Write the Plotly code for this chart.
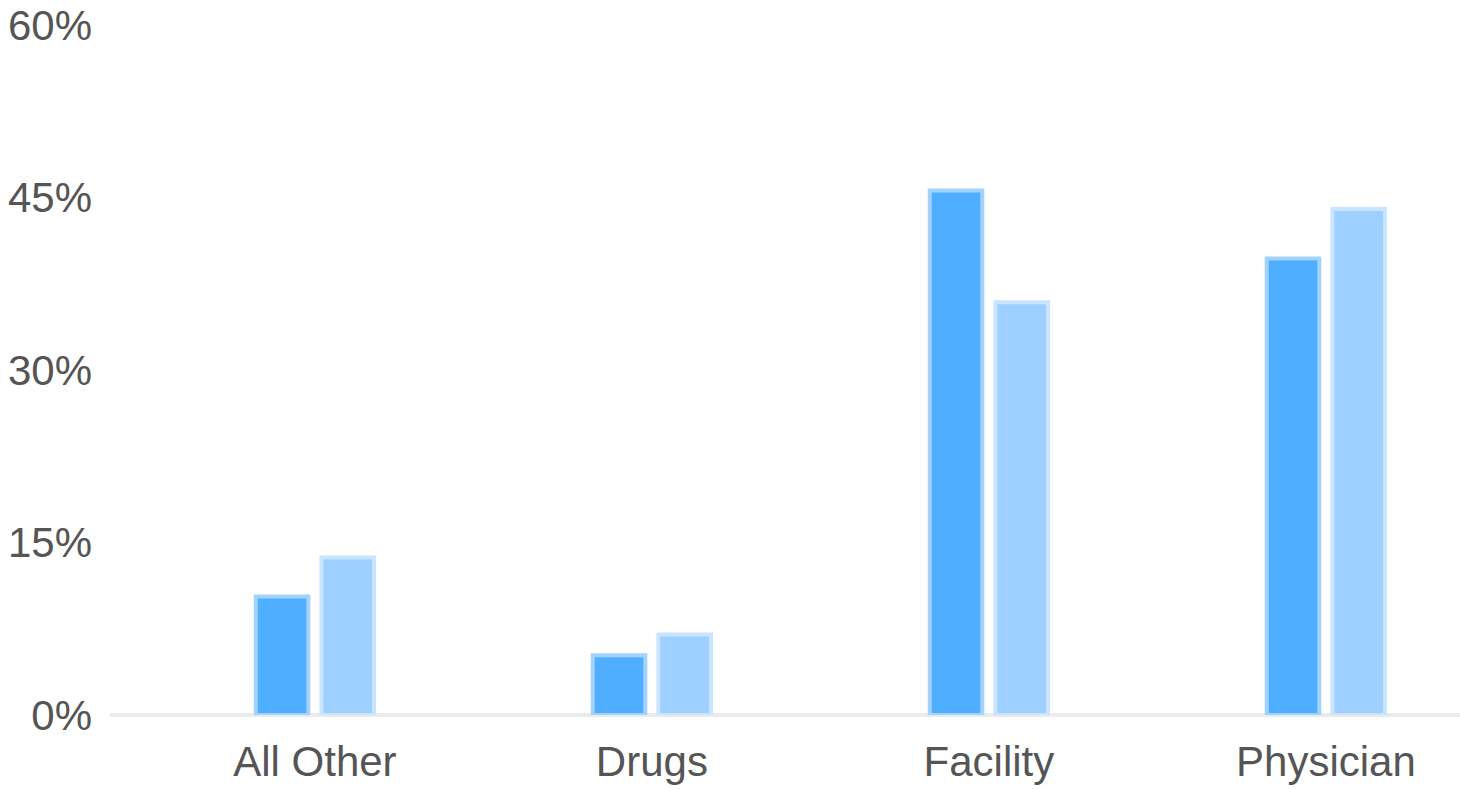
import plotly.graph_objects as go

# Share of spending by service category, two periods
categories = ["All Other", "Drugs", "Facility", "Physician"]
series_a = [10.3, 5.2, 45.6, 39.7]
series_b = [13.7, 7.0, 35.9, 44.0]
y_ticks = [0, 15, 30, 45, 60]
y_tick_labels = ["0%", "15%", "30%", "45%", "60%"]

font_family = "Liberation Sans, Arial, sans-serif"
text_color = "#555555"

fig = go.Figure()
fig.add_trace(go.Bar(
    x=categories, y=series_a,
    marker=dict(color="#4FAEFF", line=dict(color="#A2D3FF", width=4)),
    showlegend=False, hoverinfo="skip",
))
fig.add_trace(go.Bar(
    x=categories, y=series_b,
    marker=dict(color="#9DD0FF", line=dict(color="#C8E4FF", width=4)),
    showlegend=False, hoverinfo="skip",
))

fig.update_layout(
    width=1460, height=789,
    margin=dict(l=110, r=0, t=25, b=74),
    paper_bgcolor="white", plot_bgcolor="white",
    barmode="group", bargap=0.61, bargroupgap=0.2,
    font=dict(family=font_family, size=42, color=text_color),
    xaxis=dict(
        range=[-0.608, 3.398],
        showgrid=False, showline=False, zeroline=False,
        ticks="", ticklabelstandoff=18,
        tickfont=dict(size=42, color=text_color),
    ),
    yaxis=dict(
        range=[0, 60],
        tickvals=y_ticks, ticktext=y_tick_labels,
        showgrid=False, showline=False,
        zeroline=True, zerolinecolor="#EBEBEB", zerolinewidth=4,
        ticks="", ticklabelstandoff=17,
        tickfont=dict(size=42, color=text_color),
    ),
)

fig.write_html("out.html")
